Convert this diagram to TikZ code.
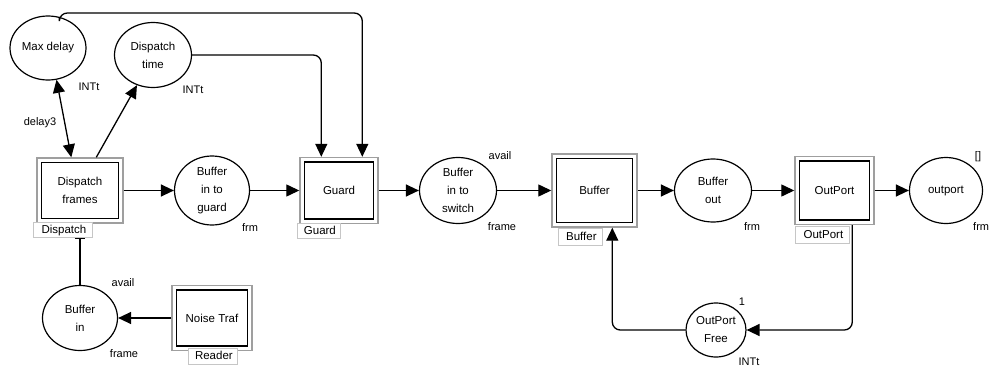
\documentclass[tikz,border=0pt]{standalone}
\usepackage{fontspec}
\setmainfont{Liberation Sans}
\usetikzlibrary{shapes.geometric,arrows.meta,calc}
\begin{document}
\begin{tikzpicture}[x=1pt,y=-1pt,
  every node/.style={font=\fontsize{11.5}{18}\selectfont},
  place/.style={ellipse,draw,line width=1.2pt,inner sep=0pt,align=center},
  trans/.style={rectangle,draw=gray!75,line width=1.4pt,inner sep=0pt,align=center},
  inbox/.style={line width=1.5pt},
  tagbox/.style={rectangle,draw=gray!45,fill=white,line width=0.8pt,inner sep=0pt,anchor=north west,
    minimum height=15pt,text height=9pt,text depth=2.5pt,align=left},
  lbl/.style={font=\fontsize{11}{13}\selectfont,inner sep=0pt},
  arc/.style={line width=1.3pt,-{Triangle[length=13pt,width=12pt]}},
  rarc/.style={arc,rounded corners=8pt},
]
\useasboundingbox[fill=white] (0,0) rectangle (989,367);

% places
\node[place,minimum width=76pt,minimum height=64pt] (md) at (48,48) {Max delay};
\node[place,minimum width=77pt,minimum height=65pt] (dt) at (153,55) {Dispatch\\time};
\node[place,minimum width=75pt,minimum height=69pt] (bitg) at (212,190.5) {Buffer\\in to\\guard};
\node[place,minimum width=77pt,minimum height=66pt] (bits) at (458,190.5) {Buffer\\in to\\switch};
\node[place,minimum width=77pt,minimum height=63pt] (bo) at (713,190.5) {Buffer\\out};
\node[place,minimum width=73pt,minimum height=66pt] (outp) at (946,190.5) {outport};
\node[place,minimum width=60pt,minimum height=54pt] (opf) at (716,330) {OutPort\\Free};
\node[place,minimum width=75pt,minimum height=65pt] (bin) at (80,318) {Buffer\\in};

% transitions (outer boxes)
\node[trans,minimum width=86pt,minimum height=65pt] (df) at (80,190.5) {Dispatch\\frames};
\node[trans,minimum width=78pt,minimum height=66pt] (guard) at (339,190.5) {Guard};
\node[trans,minimum width=85pt,minimum height=73pt] (buf) at (594.5,190.5) {Buffer};
\node[trans,minimum width=79pt,minimum height=68pt] (op) at (834.5,190.5) {OutPort};
\node[trans,minimum width=80pt,minimum height=65pt] (noise) at (212,318) {Noise Traf};

\foreach \n in {df,guard,buf,op,noise}
  \draw[inbox] ($(\n.north west)+(5pt,-5pt)$) rectangle ($(\n.south east)+(-5pt,5pt)$);

% tags
\node[tagbox,minimum width=59pt] (tagdf) at (33,222) {\hspace{2pt}Dispatch};
\node[tagbox,minimum width=43pt] (tagg) at (297,223) {\hspace{2pt}Guard};
\node[tagbox,minimum width=44pt,minimum height=17pt] (tagb) at (558,228) {\hspace{2pt}Buffer};
\node[tagbox,minimum width=54pt,minimum height=17pt] (tago) at (795,226) {\hspace{2pt}OutPort};
\node[tagbox,minimum width=49pt,minimum height=16pt] (tagr) at (188,348) {\hspace{2pt}Reader};

% labels
\node[lbl] (l1) at (89,87) {INTt};
\node[lbl] (l2) at (193,90) {INTt};
\node[lbl] (l3) at (40,123) {delay3};
\node[lbl] (l4) at (250,228) {frm};
\node[lbl] (l5) at (500,156) {avail};
\node[lbl] (l6) at (502,227) {frame};
\node[lbl] (l7) at (752,227) {frm};
\node[lbl] (l8) at (978,157) {[]};
\node[lbl,anchor=west] (l9) at (973,227) {frm};
\node[lbl] (l10) at (742,302) {1};
\node[lbl] (l11) at (749,362) {INTt};
\node[lbl] (l12) at (123,283) {avail};
\node[lbl] (l13) at (124,354) {frame};

% connectors
\coordinate (topy) at (0,13);
\coordinate (g1) at ($(guard.north west)+(22pt,0)$);
\coordinate (g2) at ($(guard.north west)+(63pt,0)$);
\coordinate (dfa) at ($(df.north west)+(35pt,0)$);
\coordinate (dfb) at ($(df.north west)+(60pt,0)$);
\coordinate (opb) at ($(op.south west)+(58pt,0)$);
\coordinate (bufb) at ($(buf.south west)+(61pt,0)$);

\draw[line width=1.3pt,{Triangle[length=13pt,width=12pt]}-{Triangle[length=13pt,width=12pt]}] (md.-75) -- (dfa);
\draw[arc] (dfb) -- (dt.-118);
\draw[rarc] (dt.east) -| (g1);
\draw[rarc] (md.70) -- (md.70 |- topy) -- (topy -| g2) -- (g2);
\draw[arc] (df) -- (bitg);
\draw[arc] (bitg) -- (guard);
\draw[arc] (guard) -- (bits);
\draw[arc] (bits) -- (buf);
\draw[arc] (buf) -- (bo);
\draw[arc] (bo) -- (op);
\draw[arc] (op) -- (outp);
\draw[rarc] (opb) |- (opf.east);
\draw[rarc] (opf.west) -| (bufb);
\draw[arc] (noise.west) -- (bin.east);
\draw[line width=1.3pt,-{Bar[width=10pt,line width=1.5pt]}] (bin.north) -- (bin.north |- tagdf.south);
\end{tikzpicture}
\end{document}
